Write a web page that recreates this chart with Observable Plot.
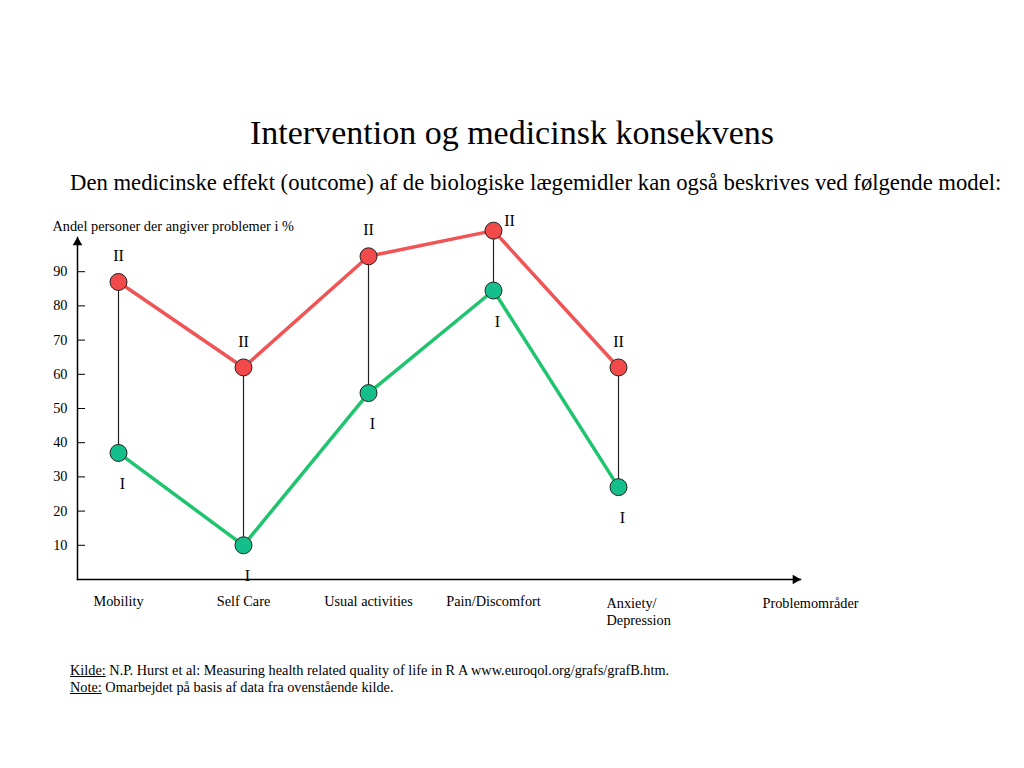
<!DOCTYPE html>
<html><head><meta charset="utf-8">
<script src="https://cdn.jsdelivr.net/npm/d3@7"></script>
<script src="https://cdn.jsdelivr.net/npm/@observablehq/plot@0.6"></script>
<style>
body{margin:0;background:#fff;color:#000;font-family:'Liberation Serif', serif;}
#page{position:relative;width:1024px;height:768px;overflow:hidden;}
#title{position:absolute;left:0;width:1024px;top:113px;text-align:center;font-size:34px;line-height:40px;white-space:nowrap;}
#subtitle{position:absolute;left:70px;top:170px;font-size:22.7px;line-height:26px;white-space:nowrap;}
#chart{position:absolute;left:0;top:200px;}
#caption{position:absolute;left:70px;top:662px;font-size:14.3px;line-height:17px;white-space:nowrap;}
</style>
</head><body>
<div id="page">
  <div id="title">Intervention og medicinsk konsekvens</div>
  <div id="subtitle">Den medicinske effekt (outcome) af de biologiske lægemidler kan også beskrives ved følgende model:</div>
  <div id="chart"></div>
  <div id="caption"><u>Kilde:</u> N.P. Hurst et al: Measuring health related quality of life in R A www.euroqol.org/grafs/grafB.htm.<br><u>Note:</u> Omarbejdet på basis af data fra ovenstående kilde.</div>
</div>
<script>
const categories = ["Mobility", "Self Care", "Usual activities", "Pain/Discomfort", "Anxiety/Depression"];
const levelII = [87, 62, 94.5, 102, 62];
const levelI = [37, 10, 54.5, 84.5, 27];
const yTicks = [10, 20, 30, 40, 50, 60, 70, 80, 90];
const yLabel = "Andel personer der angiver problemer i %";
const xLabel = "Problemområder";

const rows = categories.map((c, i) => ({category: c, I: levelI[i], II: levelII[i]}));
const serif = "'Liberation Serif', serif";
const fs = 14.3;

const chart = Plot.plot({
  width: 1024, height: 440,
  marginLeft: 77, marginRight: 224, marginTop: 37, marginBottom: 61,
  style: {fontFamily: serif, fontSize: fs + "px", color: "#000", background: "transparent", overflow: "visible"},
  x: {type: "point", domain: categories, padding: 0, insetLeft: 40, insetRight: 181, label: null},
  y: {domain: [0, 100], ticks: yTicks, label: null},
  marks: [
    Plot.frame({anchor: "left", strokeWidth: 1.5, stroke: "#000"}),
    Plot.frame({anchor: "bottom", strokeWidth: 1.5, stroke: "#000"}),
    Plot.dot([0], {frameAnchor: "top-left", symbol: "triangle", r: 3.6, fill: "#000", dy: 5}),
    Plot.dot([0], {frameAnchor: "bottom-right", symbol: "triangle", r: 3.6, fill: "#000", rotate: 90, dx: -5}),
    Plot.axisY(yTicks, {tickSize: 0, tickPadding: 10, fontSize: fs, label: null}),
    Plot.axisY(yTicks, {tickSize: 8, dx: 8, tickFormat: () => "", label: null}),
    Plot.axisX(categories.filter(c => c !== "Anxiety/Depression"), {tickSize: 0, tickPadding: 16, fontSize: fs, label: null}),
    Plot.axisX(["Anxiety/Depression"], {tickSize: 0, tickPadding: 16, fontSize: fs, lineHeight: 1.2, textAnchor: "start", dx: -12, tickFormat: () => "Anxiety/\nDepression", label: null}),
    Plot.text([yLabel], {frameAnchor: "top-left", text: d => d, textAnchor: "start", lineAnchor: "middle", dx: -25, dy: -11, fontSize: fs}),
    Plot.text([xLabel], {frameAnchor: "bottom-right", text: d => d, textAnchor: "start", lineAnchor: "middle", dx: -38, dy: 24, fontSize: fs}),
    Plot.ruleX(rows, {x: "category", y1: "I", y2: "II", stroke: "#222", strokeWidth: 1.2}),
    Plot.line(rows, {x: "category", y: "II", stroke: "#f05454", strokeWidth: 3.5}),
    Plot.line(rows, {x: "category", y: "I", stroke: "#1fc46f", strokeWidth: 3.5}),
    Plot.dot(rows, {x: "category", y: "II", r: 8.5, fill: "#f24a4a", stroke: "#222", strokeWidth: 1}),
    Plot.dot(rows, {x: "category", y: "I", r: 8.5, fill: "#14bf8c", stroke: "#222", strokeWidth: 1}),
    Plot.text(rows, {filter: d => d.category !== "Pain/Discomfort", x: "category", y: "II", text: () => "II", dy: -26, fontSize: 16}),
    Plot.text(rows, {filter: d => d.category === "Pain/Discomfort", x: "category", y: "II", text: () => "II", dx: 16, dy: -10, fontSize: 16}),
    Plot.text(rows, {x: "category", y: "I", text: () => "I", dx: 4, dy: 31, fontSize: 16})
  ]
});
document.getElementById("chart").appendChild(chart);
</script>
</body></html>
